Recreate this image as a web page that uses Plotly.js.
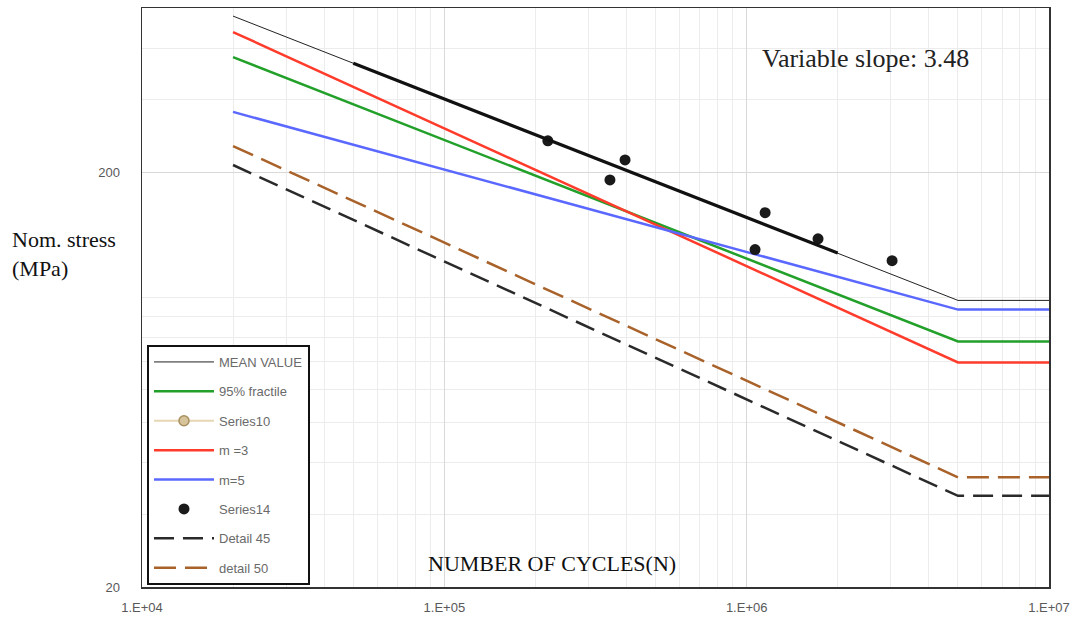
<!DOCTYPE html>
<html>
<head>
<meta charset="utf-8">
<script src="https://cdn.plot.ly/plotly-3.0.1.min.js"></script>
<style>
  html, body { margin: 0; padding: 0; background: #ffffff; }
  #chart { width: 1075px; height: 618px; }
</style>
</head>
<body>
<div id="chart"></div>
<script>
// Number of cycles for the S-N design lines (start, knee at 5e6, end)
const cyclesLine = [2e4, 5e6, 1e7];
// Stress values (MPa)
const meanValue = [478, 98.4, 98.4];
const fractile95 = [380.6, 78.3, 78.3];
const m3Values = [437.5, 69.7, 69.7];
const m5Values = [280.6, 93.5, 93.5];
const detail45 = [208.9, 33.2, 33.2];
const detail50 = [232.1, 36.8, 36.8];
// Regression segment (thick black) over the test range
const cyclesFit = [5e4, 2e6];
const stressFit = [367.6, 128.0];
// Series10 (no visible points in the plotted range)
const series10X = [null];
const series10Y = [null];
// Series14 test results
const testCycles = [220000, 396000, 353000, 1151000, 1066000, 1722000, 3027000];
const testStress = [238.9, 214.9, 192.3, 160.2, 130.5, 138.6, 122.7];
// Axis tick labels
const xTickVals = [1e4, 1e5, 1e6, 1e7];
const xTickText = ['1.E+04', '1.E+05', '1.E+06', '1.E+07'];
const yTickVals = [20, 200];
const yTickText = ['20', '200'];
const yMinorVals = [30, 40, 50, 60, 70, 80, 90, 100, 300, 400];

const sans = "'Liberation Sans', Arial, sans-serif";
const serif = "'Liberation Serif', 'DejaVu Serif', serif";

function line(name, x, y, color, width, dash, group) {
  return {
    type: 'scatter', mode: 'lines', name: name, x: x, y: y,
    line: { color: color, width: width, dash: dash || 'solid' },
    legendgroup: group, hoverinfo: 'skip'
  };
}

const traces = [
  line('MEAN VALUE', cyclesLine, meanValue, '#222222', 1, 'solid', 'g1'),
  line('95% fractile', cyclesLine, fractile95, '#22a02a', 2.5, 'solid', 'g2'),
  {
    type: 'scatter', mode: 'lines+markers', name: 'Series10', x: series10X, y: series10Y,
    line: { color: '#e6d6b4', width: 2 },
    marker: { color: '#d8c49a', size: 10, line: { color: '#a89060', width: 1.5 } },
    legendgroup: 'g3', connectgaps: false
  },
  line('m =3', cyclesLine, m3Values, '#ff3c2c', 2.5, 'solid', 'g4'),
  line('m=5', cyclesLine, m5Values, '#5a68ff', 2.5, 'solid', 'g5'),
  {
    type: 'scatter', mode: 'markers', name: 'Series14', x: testCycles, y: testStress,
    marker: { color: '#1a1a1a', size: 11 }, legendgroup: 'g6'
  },
  line('Detail 45', cyclesLine, detail45, '#2a2a2a', 2.5, '20px,9px', 'g7'),
  line('detail 50', cyclesLine, detail50, '#a8622a', 2.5, '22px,9px', 'g8'),
  {
    type: 'scatter', mode: 'lines', name: 'fit', x: cyclesFit, y: stressFit,
    line: { color: '#111111', width: 3.2 }, showlegend: false, hoverinfo: 'skip'
  }
];

const layout = {
  width: 1075, height: 618,
  margin: { l: 142, r: 26, t: 8, b: 31 },
  paper_bgcolor: '#ffffff', plot_bgcolor: '#ffffff',
  showlegend: true,
  legend: {
    x: 0.0055, y: 0.418, xanchor: 'left', yanchor: 'top',
    bgcolor: '#ffffff', bordercolor: '#111111', borderwidth: 2,
    font: { family: sans, size: 13, color: '#6a6a6a' },
    tracegroupgap: 9.5, itemwidth: 60, traceorder: 'grouped'
  },
  xaxis: {
    type: 'log', range: [4, 7],
    tickmode: 'array', tickvals: xTickVals, ticktext: xTickText,
    tickfont: { family: sans, size: 13, color: '#595959' },
    ticks: 'outside', ticklen: 8, tickcolor: 'rgba(0,0,0,0)',
    showgrid: true, gridcolor: '#d9d9d9', gridwidth: 1,
    minor: { dtick: 'D1', showgrid: true, gridcolor: '#ececec', gridwidth: 1, ticks: '' },
    showline: true, mirror: true, linecolor: '#333333', linewidth: 1.5,
    zeroline: false
  },
  yaxis: {
    type: 'log', range: [Math.log10(20), Math.log10(500)],
    tickmode: 'array', tickvals: yTickVals, ticktext: yTickText,
    tickfont: { family: sans, size: 13, color: '#595959' },
    ticks: 'outside', ticklen: 18, tickcolor: 'rgba(0,0,0,0)',
    showgrid: true, gridcolor: '#d9d9d9', gridwidth: 1,
    minor: { tickmode: 'array', tickvals: yMinorVals, showgrid: true, gridcolor: '#ececec', gridwidth: 1, ticks: '' },
    showline: true, mirror: true, linecolor: '#333333', linewidth: 1.5,
    zeroline: false
  },
  annotations: [
    {
      text: 'Variable slope: 3.48', xref: 'paper', yref: 'paper',
      x: (865 - 142) / 907, y: 1 - (59 - 8) / 579, xanchor: 'center', yanchor: 'middle',
      showarrow: false, font: { family: serif, size: 26, color: '#222222' }
    },
    {
      text: 'NUMBER OF CYCLES(N)', xref: 'paper', yref: 'paper',
      x: (552 - 142) / 907, y: 1 - (563 - 8) / 579, xanchor: 'center', yanchor: 'middle',
      showarrow: false, font: { family: serif, size: 22, color: '#111111' }
    },
    {
      text: 'Nom. stress<br>(MPa)', xref: 'paper', yref: 'paper', align: 'left',
      x: (10 - 142) / 907, y: 1 - (254 - 8) / 579, xanchor: 'left', yanchor: 'middle',
      showarrow: false, font: { family: serif, size: 22, color: '#111111' }
    }
  ]
};

Plotly.newPlot('chart', traces, layout, { displayModeBar: false, staticPlot: true });
</script>
</body>
</html>
